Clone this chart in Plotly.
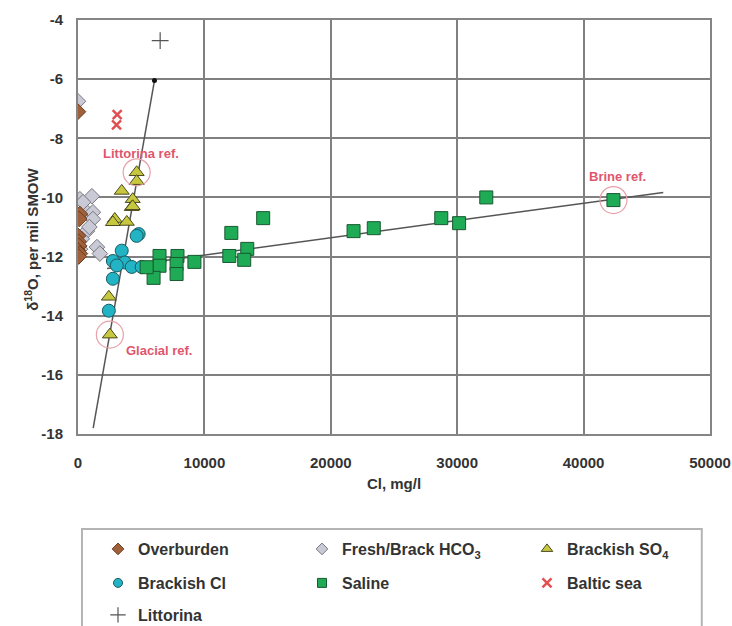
import plotly.graph_objects as go

# ---- data ----
overburden_cl = [0, 150, 100, 0, 50, 100, 0, 150, 50]
overburden_o = [-7.1, -10.56, -10.73, -11.3, -11.5, -11.64, -11.8, -11.9, -12.0]

fresh_cl = [0, 150, 1100, 700, 1180, 400, 160, 1180, 700, 1500, 1730, 160, 0, 300, 900]
fresh_o = [-6.75, -10.06, -9.96, -10.5, -10.5, -10.16, -10.63, -10.73, -11.14, -11.68, -11.9, -11.75, -11.98, -11.4, -11.0]

so4_cl = [4640, 4640, 3460, 4330, 4250, 2910, 3860, 2760, 4330, 2440, 2520]
so4_o = [-9.15, -9.45, -9.78, -10.06, -10.33, -10.73, -10.83, -10.84, -10.3, -13.36, -14.64]

cl_cl = [4800, 4640, 3460, 2760, 3700, 4250, 5040, 2760, 2440, 3070]
cl_o = [-11.24, -11.3, -11.8, -12.15, -12.2, -12.35, -12.35, -12.75, -13.83, -12.3]

saline_cl = [14650, 21800, 23400, 28740, 30150, 32300, 42360, 12130, 11970, 13390,
             13150, 9210, 7870, 7800, 7800, 6450, 6450, 5980, 5430]
saline_o = [-10.7, -11.14, -11.04, -10.7, -10.87, -10.0, -10.09, -11.2, -11.98, -11.74,
            -12.11, -12.18, -11.98, -12.25, -12.59, -11.98, -12.31, -12.72, -12.36]

baltic_cl = [3050, 3100]
baltic_o = [-7.55, -7.2]

littorina_cl = [6500]
littorina_o = [-4.7]

mix_line_cl = [1200, 6050]
mix_line_o = [-17.8, -6.05]

saline_line_cl = [2300, 46300]
saline_line_o = [-12.4, -9.83]

ref_names = ["Littorina ref.", "Glacial ref.", "Brine ref."]
ref_cl = [4640, 2520, 42360]
ref_o = [-9.15, -14.64, -10.09]

x_ticks = [0, 10000, 20000, 30000, 40000, 50000]
y_ticks = [-18, -16, -14, -12, -10, -8, -6, -4]

FONT = "Liberation Sans, Arial, sans-serif"
RED = "#e0566c"
TXT = "#333333"
W, H = 732, 626

fig = go.Figure()

# lines
fig.add_trace(go.Scatter(x=mix_line_cl, y=mix_line_o, mode="lines", showlegend=False,
                         line=dict(color="#555555", width=1.5), hoverinfo="skip"))
fig.add_trace(go.Scatter(x=[mix_line_cl[1]], y=[mix_line_o[1]], mode="markers", showlegend=False,
                         marker=dict(color="#111111", size=5), hoverinfo="skip"))
fig.add_trace(go.Scatter(x=saline_line_cl, y=saline_line_o, mode="lines", showlegend=False,
                         line=dict(color="#555555", width=1.5), hoverinfo="skip"))

# (name, x, y, marker style, plot size, legend size, legend id)
series = [
    ("Fresh/Brack HCO<sub>3</sub>", fresh_cl, fresh_o,
     dict(symbol="diamond", color="#c9cad6", line=dict(color="#777780", width=1)), 12, 9, "legend2"),
    ("Overburden", overburden_cl, overburden_o,
     dict(symbol="diamond", color="#a0603a", line=dict(color="#6a3e22", width=1)), 12, 9, "legend"),
    ("Brackish SO<sub>4</sub>", so4_cl, so4_o,
     dict(symbol="triangle-up", color="#c8c840", line=dict(color="#4a4a20", width=1)), 13, 10, "legend3"),
    ("Brackish Cl", cl_cl, cl_o,
     dict(symbol="circle", color="#22b4c4", line=dict(color="#1a5a60", width=1)), 13, 9, "legend4"),
    ("Saline", saline_cl, saline_o,
     dict(symbol="square", color="#1faa55", line=dict(color="#185a30", width=1)), 13, 9, "legend5"),
    ("Baltic sea", baltic_cl, baltic_o,
     dict(symbol="x-thin", color="#e03c3c", line=dict(color="#e05050", width=2.5)), 9, 9, "legend6"),
    ("Littorina", littorina_cl, littorina_o,
     dict(symbol="cross-thin", color="#444444", line=dict(color="#555555", width=1.2)), 12, 11, "legend7"),
]

for name, xs, ys, mk, size, lsize, lg in series:
    fig.add_trace(go.Scatter(x=xs, y=ys, mode="markers", name=name, showlegend=False,
                             marker=dict(size=size, **mk)))
    fig.add_trace(go.Scatter(x=[None], y=[None], mode="markers", name=name, legend=lg,
                             marker=dict(size=lsize, **mk)))

# reference circles
fig.add_trace(go.Scatter(x=ref_cl, y=ref_o, mode="markers", showlegend=False, hoverinfo="skip",
                         marker=dict(symbol="circle-open", size=27, color="#e8a0aa",
                                     line=dict(color="#e8a0aa", width=1.2))))

ref_shifts = [(4, 19), (49, -16), (4, 24)]
for name, cx, cy, (sx, sy) in zip(ref_names, ref_cl, ref_o, ref_shifts):
    fig.add_annotation(x=cx, y=cy, text=name, showarrow=False, xshift=sx, yshift=sy,
                       font=dict(family=FONT, size=13, color=RED, weight="bold"))

# y axis title as annotation
fig.add_annotation(xref="paper", yref="paper", x=-0.092, y=0.47, text="δ<sup>18</sup>O, per mil SMOW",
                   textangle=-90, showarrow=False,
                   font=dict(family=FONT, size=15, color=TXT, weight="bold"))

# legend frame
fig.add_shape(type="rect", xref="paper", yref="paper", x0=0.0063, x1=0.987, y0=-0.55, y1=-0.2295,
              line=dict(color="#b4b4b4", width=2), fillcolor="rgba(0,0,0,0)")

axis_common = dict(showgrid=True, gridcolor="#808080", gridwidth=1.7, zeroline=False,
                   showline=True, linecolor="#858585", linewidth=2, mirror=True, automargin=False,
                   ticks="", tickfont=dict(family=FONT, size=15, color=TXT, weight="bold"))

leg_common = dict(orientation="h", xanchor="left", yanchor="middle", xref="container", yref="container",
                  bgcolor="rgba(0,0,0,0)", borderwidth=0,
                  font=dict(family=FONT, size=16, color=TXT, weight="bold"),
                  itemsizing="trace")

col_px = [98, 302, 527]
row_px = [549, 583, 615]
legend_pos = {
    "legend": (col_px[0], row_px[0]), "legend2": (col_px[1], row_px[0]), "legend3": (col_px[2], row_px[0]),
    "legend4": (col_px[0], row_px[1]), "legend5": (col_px[1], row_px[1]), "legend6": (col_px[2], row_px[1]),
    "legend7": (col_px[0], row_px[2]),
}
legend_layout = {k: dict(x=px / W, y=1 - py / H, **leg_common) for k, (px, py) in legend_pos.items()}

fig.update_layout(
    width=W, height=H,
    margin=dict(l=78, r=22, t=20, b=192, autoexpand=False),
    paper_bgcolor="white", plot_bgcolor="white",
    xaxis=dict(range=[0, 50000], tickvals=x_ticks, ticktext=[str(v) for v in x_ticks],
               ticklabelstandoff=14,
               title=dict(text="Cl, mg/l", font=dict(family=FONT, size=15, color=TXT, weight="bold"),
                          standoff=8),
               **axis_common),
    yaxis=dict(range=[-18, -4], tickvals=y_ticks, ticktext=[str(v) for v in y_ticks],
               ticklabelstandoff=10, **axis_common),
    **legend_layout,
)

fig.write_html("out.html")
